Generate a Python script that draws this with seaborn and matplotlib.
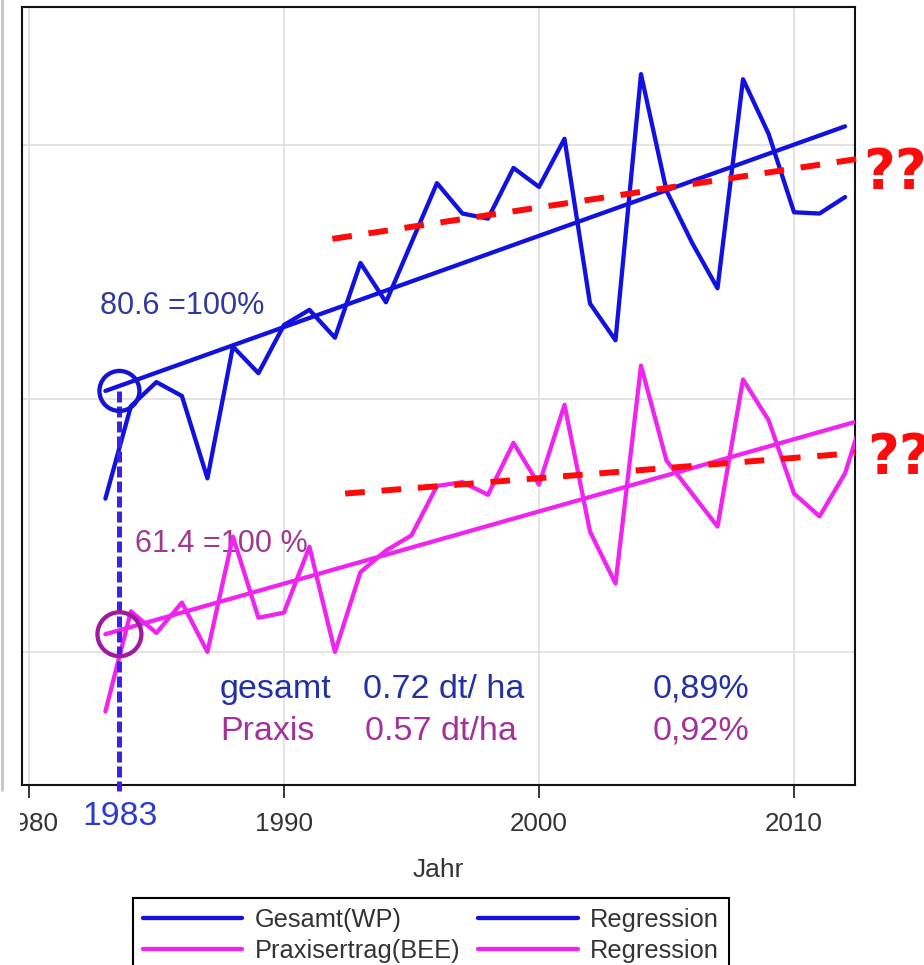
import numpy as np
import pandas as pd
import matplotlib
matplotlib.use("Agg")
import matplotlib.pyplot as plt
from matplotlib.lines import Line2D
from matplotlib.patches import Rectangle
import seaborn as sns

# ---- data -------------------------------------------------------------
years_wp = list(range(1983, 2013))
gesamt_wp = [72.1, 79.4, 81.3, 80.2, 73.7, 84.1, 82.0, 85.8, 87.0, 84.8,
             90.7, 87.6, 92.3, 97.0, 94.6, 94.2, 98.2, 96.7, 100.5, 87.5,
             84.6, 105.6, 96.4, 92.3, 88.7, 105.2, 100.9, 94.7, 94.6, 95.9]

years_bee = list(range(1983, 2014))
praxis_bee = [55.3, 63.2, 61.5, 63.9, 60.0, 69.1, 62.7, 63.1, 68.3, 60.0,
              66.3, 68.0, 69.2, 73.1, 73.4, 72.4, 76.5, 73.2, 79.5, 69.5,
              65.4, 82.6, 75.1, 72.5, 69.9, 81.5, 78.3, 72.5, 70.7, 74.1, 80.5]

base_year = 1983
base_wp, slope_wp, pct_wp = 80.6, 0.72, "0,89%"
base_bee, slope_bee, pct_bee = 61.4, 0.57, "0,92%"
reg_end_wp, reg_end_bee = 2012, 2013

# hand-drawn "flattening" guide lines: (x0, y0, x1, y1)
guide_wp = [1991.9, 92.6, 2012.45, 98.9]
guide_bee = [1992.4, 72.5, 2012.4, 75.7]

xticks = [1980, 1990, 2000, 2010]
yticks = [60, 80, 100]

# ---- style --------------------------------------------------------------
sns.set_theme(style="whitegrid")
plt.rcParams["font.family"] = ["Liberation Sans", "DejaVu Sans"]

BLUE = "#1212e0"
MAGENTA = "#f024f0"

fig = plt.figure(figsize=(9.24, 9.65), dpi=100)
W, H = 924, 965
ax = fig.add_axes([22 / W, 1 - 785 / H, (855 - 22) / W, (785 - 7) / H])
ax.set_facecolor("white")

# ---- series -------------------------------------------------------------
df_wp = pd.DataFrame({"Jahr": years_wp, "Ertrag": gesamt_wp})
df_bee = pd.DataFrame({"Jahr": years_bee, "Ertrag": praxis_bee})

reg_wp_x = np.array([base_year, reg_end_wp])
reg_bee_x = np.array([base_year, reg_end_bee])
df_reg_wp = pd.DataFrame({"Jahr": reg_wp_x,
                          "Ertrag": base_wp + slope_wp * (reg_wp_x - base_year)})
df_reg_bee = pd.DataFrame({"Jahr": reg_bee_x,
                           "Ertrag": base_bee + slope_bee * (reg_bee_x - base_year)})

lw = 3.1
sns.lineplot(data=df_wp, x="Jahr", y="Ertrag", ax=ax, color=BLUE, lw=lw,
             label="Gesamt(WP)", zorder=4)
sns.lineplot(data=df_bee, x="Jahr", y="Ertrag", ax=ax, color=MAGENTA, lw=lw,
             label="Praxisertrag(BEE)", zorder=4)
sns.lineplot(data=df_reg_wp, x="Jahr", y="Ertrag", ax=ax, color=BLUE, lw=lw,
             label="Regression", zorder=4)
sns.lineplot(data=df_reg_bee, x="Jahr", y="Ertrag", ax=ax, color=MAGENTA, lw=lw,
             label="Regression", zorder=4)
handles, labels = ax.get_legend_handles_labels()

# red dashed guide lines and question marks
for g in (guide_wp, guide_bee):
    ax.plot([g[0], g[2]], [g[1], g[3]], color="#ff0a0a", lw=4.3,
            linestyle=(0, (3.3, 2.8)), zorder=6, clip_on=False)
ax.text(2012.71, 96.65, "??", color="#ff0a0a", fontsize=39.5,
        fontweight="bold", family="DejaVu Sans", ha="left", va="baseline",
        clip_on=False, zorder=7)
ax.text(2012.86, 74.1, "??", color="#ff0a0a", fontsize=39.5,
        fontweight="bold", family="DejaVu Sans", ha="left", va="baseline",
        clip_on=False, zorder=7)

# reference year marker
mark_x = 1983.55
ax.plot([mark_x, mark_x], [base_wp, 49.0], color="#3a22e6", lw=3.6,
        linestyle=(0, (2.2, 0.8)), zorder=5, clip_on=False)
sns.scatterplot(x=[mark_x], y=[base_wp], ax=ax, s=830, marker="o",
                facecolors="none", edgecolors="#1414d2", linewidths=3.1,
                zorder=6, legend=False)
sns.scatterplot(x=[mark_x], y=[base_bee], ax=ax, s=1000, marker="o",
                facecolors="none", edgecolors="#a01aa0", linewidths=3.1,
                zorder=6, legend=False)

# annotations
ax.text(1982.78, 86.7, f"{base_wp} =100%", color="#2e3a9e", fontsize=22,
        ha="left", va="baseline", zorder=3)
ax.text(1984.16, 67.9, f"{base_bee} =100 %", color="#9e3a8e", fontsize=22,
        ha="left", va="baseline", zorder=3)

stat_fs = 24.5
ax.text(1987.49, 56.37, "gesamt", color="#2232a6", fontsize=stat_fs,
        ha="left", va="baseline")
ax.text(1993.10, 56.37, f"{slope_wp} dt/ ha", color="#2232a6",
        fontsize=stat_fs, ha="left", va="baseline")
ax.text(2004.47, 56.37, pct_wp, color="#2232a6", fontsize=stat_fs,
        ha="left", va="baseline")
ax.text(1987.49, 53.06, "Praxis", color="#a4309a", fontsize=stat_fs,
        ha="left", va="baseline")
ax.text(1993.18, 53.06, f"{slope_bee} dt/ha", color="#a4309a",
        fontsize=stat_fs, ha="left", va="baseline")
ax.text(2004.47, 53.06, pct_bee, color="#a4309a", fontsize=stat_fs,
        ha="left", va="baseline")

# ---- axes ---------------------------------------------------------------
ax.set_xlim(1979.73, 2012.39)
ax.set_ylim(49.5, 110.9)
ax.set_xticks(xticks)
ax.set_yticks(yticks)
ax.set_yticklabels([])
ax.grid(True, color="#dedede", lw=1.2)
ax.tick_params(axis="x", direction="out", length=9.4, width=1.1,
               color="black", bottom=True, labelsize=18.7,
               labelcolor="#333333", pad=10)
ax.tick_params(axis="y", length=0)
for s in ax.spines.values():
    s.set_color("#111111")
    s.set_linewidth(1.5)
ax.set_xlabel("Jahr", fontsize=19, color="#333333", labelpad=16)
ax.set_ylabel("")

fig.text(82 / W, 1 - 825 / H, str(base_year), color="#2a3ad6", fontsize=24.3,
         ha="left", va="baseline")

# only the figure-level legend below the plot is shown
if ax.legend_ is not None:
    ax.legend_.remove()
leg = fig.legend(handles, labels, loc="upper left",
                 bbox_to_anchor=(133 / W, 1 - 898 / H), ncol=2, fontsize=18.3,
                 frameon=True, fancybox=False, edgecolor="black", framealpha=1,
                 handlelength=3.9, handletextpad=0.5, columnspacing=0.7,
                 borderpad=0.4, labelspacing=0.25, borderaxespad=0)
leg.get_frame().set_linewidth(1.5)
for t in leg.get_texts():
    t.set_color("#333333")

# left margin of the page
fig.patches.append(Rectangle((0, 1 - 850 / H), 20 / W, 60 / H,
                             transform=fig.transFigure, facecolor="white",
                             edgecolor="none", zorder=10))
fig.lines.append(Line2D([1.5 / W, 1.5 / W], [1 - 790 / H, 1.0],
                        transform=fig.transFigure, color="#c4c4c4", lw=2,
                        zorder=11))

fig.savefig("out.png", dpi=100)
